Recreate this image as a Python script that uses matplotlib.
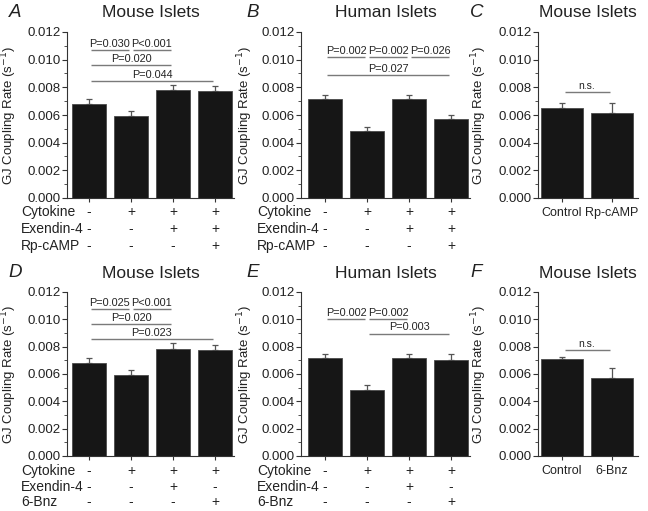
import matplotlib
matplotlib.use("Agg")
import matplotlib.pyplot as plt
from matplotlib.ticker import MultipleLocator
import numpy as np

plt.rcParams['font.family'] = ['Liberation Sans', 'DejaVu Sans']

# ---------------- data ----------------
a_vals = [0.00682, 0.00590, 0.00780, 0.00771]
a_errs = [0.00034, 0.00039, 0.00040, 0.00039]
b_vals = [0.00713, 0.00484, 0.00713, 0.00569]
b_errs = [0.00032, 0.00031, 0.00033, 0.00029]
c_vals = [0.00648, 0.00612]
c_errs = [0.00037, 0.00078]
d_vals = [0.00683, 0.00593, 0.00785, 0.00776]
d_errs = [0.00036, 0.00036, 0.00039, 0.00036]
e_vals = [0.00715, 0.00483, 0.00715, 0.00702]
e_errs = [0.00031, 0.00034, 0.00031, 0.00042]
f_vals = [0.00709, 0.00568]
f_errs = [0.00017, 0.00078]
c_labels = ["Control", "Rp-cAMP"]
f_labels = ["Control", "6-Bnz"]

row_names_top = ["Cytokine", "Exendin-4", "Rp-cAMP"]
row_names_bot = ["Cytokine", "Exendin-4", "6-Bnz"]
signs_top = [["-", "+", "+", "+"], ["-", "-", "+", "+"], ["-", "-", "-", "+"]]
signs_d = [["-", "+", "+", "+"], ["-", "-", "+", "-"], ["-", "-", "-", "+"]]
signs_e = [["-", "+", "+", "+"], ["-", "-", "+", "-"], ["-", "-", "-", "+"]]

# comparisons: (i, j, y, text)
a_comp = [(0, 1, 0.0107, "P=0.030"), (1, 2, 0.0107, "P<0.001"),
          (0, 2, 0.0096, "P=0.020"), (0, 3, 0.00846, "P=0.044")]
b_comp = [(0, 1, 0.0102, "P=0.002"), (1, 2, 0.0102, "P=0.002"),
          (2, 3, 0.0102, "P=0.026"), (0, 3, 0.00887, "P=0.027")]
c_comp = [(0, 1, 0.00766, "n.s.")]
d_comp = [(0, 1, 0.01073, "P=0.025"), (1, 2, 0.01073, "P<0.001"),
          (0, 2, 0.00966, "P=0.020"), (0, 3, 0.00854, "P=0.023")]
e_comp = [(0, 1, 0.0100, "P=0.002"), (1, 2, 0.0100, "P=0.002"),
          (1, 3, 0.00895, "P=0.003")]
f_comp = [(0, 1, 0.00774, "n.s.")]

titles = ["Mouse Islets", "Human Islets", "Mouse Islets",
          "Mouse Islets", "Human Islets", "Mouse Islets"]
letters = ["A", "B", "C", "D", "E", "F"]

# ---------------- figure ----------------
W, H = 648, 511
fig = plt.figure(figsize=(W / 100, H / 100), dpi=100)

def px_axes(x0, y0, x1, y1):
    return fig.add_axes([x0 / W, 1 - y1 / H, (x1 - x0) / W, (y1 - y0) / H])

BAR_FC = "#161616"
BAR_EC = "#4a4a4a"
LINE_C = "#7a7a7a"
TXT_C = "#222222"

def style(ax, title, letter, letter_x, letter_y, ylabel_x, tpad):
    ax.set_ylim(0, 0.012)
    ax.yaxis.set_major_locator(MultipleLocator(0.002))
    ax.yaxis.set_minor_locator(MultipleLocator(0.001))
    ax.yaxis.set_major_formatter(matplotlib.ticker.FormatStrFormatter('%.3f'))
    for s in ["top", "right"]:
        ax.spines[s].set_visible(False)
    for s in ["left", "bottom"]:
        ax.spines[s].set_linewidth(0.8)
        ax.spines[s].set_color("#333333")
    ax.tick_params(axis='y', which='major', length=3.5, width=0.8, labelsize=9.5,
                   colors="#333333", labelcolor=TXT_C, pad=1)
    ax.tick_params(axis='y', which='minor', length=2, width=0.6, colors="#333333")
    ax.tick_params(axis='x', length=3, width=0.8, colors="#333333", labelcolor=TXT_C)
    ax.set_ylabel("GJ Coupling Rate (s$^{-1}$)", fontsize=9.5, color=TXT_C)
    ax.yaxis.set_label_coords(ylabel_x, 0.5)
    ax.set_title(title, fontsize=12.5, color=TXT_C, pad=tpad)
    ax.text(letter_x, letter_y, letter, transform=ax.transAxes, fontsize=13.5,
            style='italic', color=TXT_C, ha='left', va='center')

def bars(ax, vals, errs, width):
    x = np.arange(len(vals))
    ax.bar(x, vals, width=width, color=BAR_FC, edgecolor=BAR_EC, linewidth=0.6, zorder=2)
    ax.errorbar(x, vals, yerr=[np.zeros(len(vals)), errs], fmt='none',
                ecolor="#555555", elinewidth=0.9, capsize=2, capthick=0.9, zorder=1)
    ax.set_xticks(x)
    return x

def comps(ax, comp, fs=7.8, shrink=0.05):
    for i, j, y, t in comp:
        ax.plot([i + shrink, j - shrink], [y, y], color=LINE_C, lw=1.0,
                solid_capstyle='butt', clip_on=False)
        ax.text((i + j) / 2, y + 0.00010, t, ha='center', va='bottom', fontsize=fs,
                color=TXT_C)

def sign_rows(ax, names, signs, label_x_px, row_y_px):
    for r, (nm, row) in enumerate(zip(names, signs)):
        yy = 1 - row_y_px[r] / H
        fig.text(label_x_px / W, yy, nm, fontsize=10, ha='left', va='center', color=TXT_C)
        for k, s in enumerate(row):
            xd = ax.transData.transform((k, 0))[0]
            xf = fig.transFigure.inverted().transform((xd, 0))[0]
            fig.text(xf, yy, s, fontsize=10, ha='center', va='center', color=TXT_C)

# Top row
axA = px_axes(67, 32, 234, 198)
axA.set_xlim(-0.52, 3.45)
bars(axA, a_vals, a_errs, 0.81)
axA.set_xticklabels([])
style(axA, titles[0], letters[0], -0.35, 1.12, -0.29, 11)
comps(axA, a_comp)

axB = px_axes(301, 32, 470, 198)
axB.set_xlim(-0.57, 3.45)
bars(axB, b_vals, b_errs, 0.81)
axB.set_xticklabels([])
style(axB, titles[1], letters[1], -0.32, 1.12, -0.27, 11)
comps(axB, b_comp)

axC = px_axes(538, 32, 638, 198)
axC.set_xlim(-0.48, 1.52)
bars(axC, c_vals, c_errs, 0.84)
axC.set_xticklabels(c_labels, fontsize=9)
style(axC, titles[2], letters[2], -0.68, 1.12, -0.49, 11)
comps(axC, c_comp, fs=7.5)

# Bottom row
axD = px_axes(67, 292, 234, 456)
axD.set_xlim(-0.52, 3.45)
bars(axD, d_vals, d_errs, 0.81)
axD.set_xticklabels([])
style(axD, titles[3], letters[3], -0.35, 1.116, -0.29, 10)
comps(axD, d_comp)

axE = px_axes(301, 292, 470, 456)
axE.set_xlim(-0.57, 3.45)
bars(axE, e_vals, e_errs, 0.81)
axE.set_xticklabels([])
style(axE, titles[4], letters[4], -0.32, 1.116, -0.27, 10)
comps(axE, e_comp)

axF = px_axes(538, 292, 638, 456)
axF.set_xlim(-0.48, 1.52)
bars(axF, f_vals, f_errs, 0.84)
axF.set_xticklabels(f_labels, fontsize=9)
style(axF, titles[5], letters[5], -0.68, 1.116, -0.49, 10)
comps(axF, f_comp, fs=7.5)

sign_rows(axA, row_names_top, signs_top, 21, [212, 229, 246])
sign_rows(axB, row_names_top, signs_top, 257, [212, 229, 246])
sign_rows(axD, row_names_bot, signs_d, 21, [471, 487, 502])
sign_rows(axE, row_names_bot, signs_e, 257, [471, 487, 502])

fig.savefig("out.png", dpi=100)
